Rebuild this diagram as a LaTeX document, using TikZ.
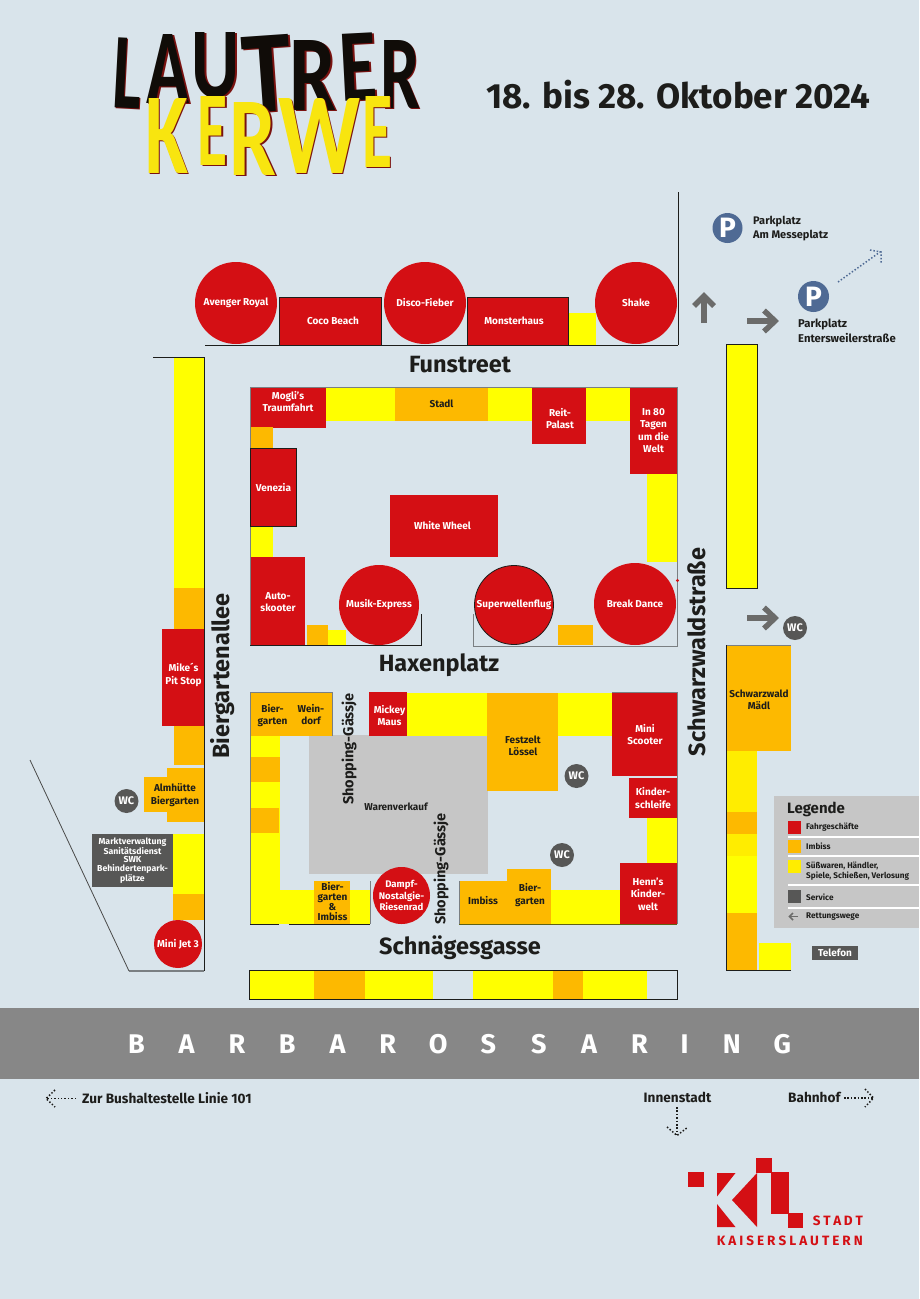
\documentclass[tikz,border=0pt]{standalone}
\usepackage{fontspec}
\setmainfont{Fira Sans}
\newfontfamily\logofont{Carlito}
\definecolor{bg}{HTML}{D9E4EB}
\definecolor{rd}{HTML}{D40F14}
\definecolor{og}{HTML}{FDB900}
\definecolor{ye}{HTML}{FFFF00}
\definecolor{yl}{HTML}{FFED00}
\definecolor{dk}{HTML}{575756}
\definecolor{gy}{HTML}{C6C6C6}
\definecolor{tx}{HTML}{1D1D1B}
\definecolor{pb}{HTML}{4F6A94}
\definecolor{ln}{HTML}{7A7F82}
\definecolor{ar}{HTML}{6B6B6A}
\definecolor{kb}{HTML}{100C08}
\definecolor{ky}{HTML}{F8E50F}
\definecolor{ks}{HTML}{7A1210}
\tikzset{
  fr/.style={fill=rd}, im/.style={fill=og}, su/.style={fill=ye}, sl/.style={fill=yl},
  sv/.style={fill=dk}, wa/.style={fill=gy},
  lab/.style={inner sep=0pt,align=center,text=tx,font=\fontsize{10}{12.4}\selectfont\bfseries},
  wlab/.style={lab,text=white},
  street/.style={inner sep=0pt,text=tx,font=\fontsize{23.5}{26}\selectfont\bfseries},
  gass/.style={inner sep=0pt,text=tx,font=\fontsize{14.5}{16}\selectfont\bfseries},
  leg/.style={inner sep=0pt,anchor=west,align=left,text=tx,font=\fontsize{8.2}{10}\selectfont\bfseries},
  ride/.style={circle,fill=rd,inner sep=0pt},
  wc/.style={circle,fill=dk,inner sep=0pt,minimum size=24pt,text=white,font=\fontsize{11}{12}\selectfont\bfseries},
  pk/.style={circle,fill=pb,inner sep=0pt,text=white,font=\fontsize{28}{28}\selectfont\bfseries},
  ptx/.style={inner sep=0pt,anchor=west,text=tx,align=left},
  edge/.style={draw=ln,line width=1pt},
  blk/.style={draw=tx,line width=1pt},
  gar/.style={draw=ar,line width=5.5pt},
  dot/.style={draw=tx,line width=1.5pt,dash pattern=on 1.5pt off 1.9pt},
  dotb/.style={draw=pb,line width=1.5pt,dash pattern=on 1.5pt off 1.9pt},
  redt/.style={inner sep=0pt,text=rd,font=\fontsize{13.5}{14}\selectfont\bfseries},
  dirt/.style={inner sep=0pt,text=tx,font=\fontsize{13.6}{15}\selectfont\bfseries},
}
\newcommand\zone[5]{\path[#1] (#2,#3) rectangle (#4,#5);}
\newcommand\logol[8]{%
  \pgfmathsetmacro\lw{#4-#2}\pgfmathsetmacro\lh{#5-#3}%
  \pgfmathsetmacro\lx{(#2+#4)/2}\pgfmathsetmacro\ly{(#3+#5)/2}%
  \node[inner sep=0pt,rotate=#8,text=ks] at (\lx+1.3,\ly+1) {\resizebox{\lw pt}{\lh pt}{\logofont\bfseries #6}};
  \node[inner sep=0pt,rotate=#8,text=#7] (#1) at (\lx,\ly) {\resizebox{\lw pt}{\lh pt}{\logofont\bfseries #6}};}
\newcommand\bl[1]{\hbox to 50.3pt{\hss#1\hss}}
\begin{document}
\begin{tikzpicture}[x=1pt,y=-1pt]
\useasboundingbox (0,0) rectangle (919,1299);
\fill[bg] (0,0) rectangle (919,1299);
% title lettering
\logol{la}{113}{38}{142}{108}{L}{kb}{-3}
\logol{lb}{147}{34}{190}{103}{A}{kb}{0}
\logol{lc}{192}{33}{240}{98}{U}{kb}{0}
\logol{ld}{243}{36}{292}{112}{T}{kb}{4}
\logol{le}{290}{40}{337}{110}{R}{kb}{0}
\logol{lf}{340}{34}{377}{101}{E}{kb}{3}
\logol{lg}{380}{40}{420}{108}{R}{kb}{0}
\logol{ka}{145}{98}{188}{173}{K}{ky}{0}
\logol{kbb}{198}{96}{228}{165}{E}{ky}{0}
\logol{kc}{230}{102}{277}{175}{R}{ky}{0}
\logol{kd}{278}{98}{360}{173}{W}{ky}{0}
\logol{ke}{362}{96}{392}{167}{E}{ky}{0}
\node[inner sep=0pt,text=tx,font=\fontsize{35}{40}\selectfont\bfseries] (date) at (678.5,95) {18. bis 28. Oktober 2024};

% Funstreet row
\zone{su}{568}{313}{596}{345}
\node[ride,minimum size=82pt] (avenger) at (236,303) {};
\node[ride,minimum size=82pt] (disco) at (425,303) {};
\node[ride,minimum size=82pt] (shake) at (636,303) {};
\path[fr,blk] (279,297.5) rectangle (381,345);
\path[fr,blk] (467,297.5) rectangle (568,345);
\draw[blk] (205,345) -- (678,345);
\draw[blk] (678,192) -- (678,345);
\node[wlab] at (avenger) {Avenger Royal};
\node[wlab] at (disco) {Disco-Fieber};
\node[wlab] at (shake) {Shake};
\node[wlab] (coco) at (333,321) {Coco Beach};
\node[wlab] (monster) at (514,321) {Monsterhaus};
\node[street] (fun) at (460,365) {Funstreet};

% Parking and arrows
\draw[gar] (704,323) -- (704,297);
\draw[gar,miter limit=10] (694,306) -- (704,296) -- (714,306);
\draw[gar] (747,321) -- (775,321);
\draw[gar,miter limit=10] (764,310.5) -- (775,321) -- (764,331.5);
\draw[gar] (747,618) -- (775,618);
\draw[gar,miter limit=10] (764,607.5) -- (775,618) -- (764,628.5);
\node[pk,minimum size=30pt] (p1) at (727.5,228) {P};
\node[pk,minimum size=31pt] (p2) at (813.5,296.5) {P};
\node[ptx,font=\fontsize{11}{14}\selectfont\bfseries] (p1t) at (753,229) {Parkplatz\\Am Messeplatz};
\node[ptx,font=\fontsize{11.3}{14.4}\selectfont\bfseries] (p2t) at (798,331) {Parkplatz\\Entersweilerstraße};
\draw[dotb] (838,282) -- (880,252);
\draw[dotb] (870,250) -- (881,252) -- (881,264);

% Biergartenallee column
\zone{su}{174}{357}{204}{588}
\zone{im}{174}{588}{204}{629}
\zone{fr}{162}{629}{204}{726}
\zone{im}{174}{726}{204}{765}
\zone{im}{167}{768}{204}{822}
\zone{im}{144}{777}{167}{812}
\zone{su}{173}{834}{204}{894}
\zone{im}{173}{894}{204}{920}
\zone{sv}{92}{834}{173}{887}
\node[ride,minimum size=48pt] (minijet) at (178,944) {};
\draw[blk] (153,357) -- (204,357) -- (204,971);
\draw[ln,line width=1.2pt] (129,971) -- (204,971);
\draw[draw=tx!80,line width=.8pt] (30,760) -- (129,971);
\node[wlab] (mike) at (183.5,675) {Mike´s\\Pit Stop};
\node[lab] (alm) at (175,795) {Almhütte\\Biergarten};
\node[wlab,font=\fontsize{8.7}{8.8}\selectfont\bfseries] (markt) at (132.5,860.5) {Marktverwaltung\\Sanitätsdienst\\SWK\\Behindertenpark-\\plätze};
\node[wlab] at (minijet) {Mini Jet 3};
\node[wc] (wc1) at (126.5,801) {WC};
\node[street,rotate=90] (bga) at (223,676) {Biergartenallee};

% Haxenplatz block
\zone{su}{326}{387}{630}{421}
\zone{im}{395}{387}{488}{421}
\zone{fr}{250}{387}{326}{428}
\zone{fr}{532}{388}{586}{444}
\zone{fr}{630}{387}{677}{474}
\zone{su}{647}{474}{677}{562}
\zone{im}{250}{427}{273}{448}
\zone{su}{250}{526}{273}{557}
\zone{fr}{250}{557}{305}{645}
\zone{im}{307}{625}{328}{645}
\zone{su}{328}{630}{346}{645}
\zone{im}{558}{625}{593}{645}
\zone{fr}{390}{495}{498}{557}
\draw[edge] (250,387) -- (677.5,387) -- (677.5,646) -- (473,646) -- (473,614);
\draw[edge] (250,387) -- (250,646);
\draw[blk] (250,645.5) -- (421,645.5) -- (421,614);
\path[fr,blk] (250.5,448.5) rectangle (296,526);
\node[ride,minimum size=80pt] (musik) at (379,605) {};
\node[ride,minimum size=79pt,draw=tx,line width=.8pt] (welle) at (514,605) {};
\node[ride,minimum size=82pt] (break) at (635,604) {};
\fill[rd] (677.5,580.5) circle (1.6);
\node[wlab] (mogli) at (288,401.5) {Mogli's\\Traumfahrt};
\node[lab] (stadl) at (441.5,404) {Stadl};
\node[wlab] (reit) at (560,418.5) {Reit-\\Palast};
\node[wlab] (in80) at (653.5,430.5) {In 80\\Tagen\\um die\\Welt};
\node[wlab] (ven) at (273.5,488) {Venezia};
\node[wlab] (white) at (442.5,526) {White Wheel};
\node[wlab] (auto) at (278,602) {Auto-\\skooter};
\node[wlab] at (musik) {Musik-Express};
\node[wlab] at (welle) {Superwellenflug};
\node[wlab] at (break) {Break Dance};
\node[street] (hax) at (439,665) {Haxenplatz};

% Schwarzwaldstrasse
\path[su,blk] (726.5,344) rectangle (757,588);
\zone{im}{727}{646}{791}{751}
\zone{sl}{727}{751}{757}{812}
\zone{im}{727}{812}{757}{834}
\zone{sl}{727}{834}{757}{856}
\zone{su}{727}{856}{757}{913}
\zone{im}{727}{913}{757}{970}
\zone{su}{759}{943}{791}{970}
\draw[edge] (726,645) -- (791,645);
\draw[blk] (726.5,645) -- (726.5,970.5) -- (791,970.5);
\node[lab] (swm) at (759,699.5) {Schwarzwald\\Mädl};
\node[wc] (wc2) at (795,628) {WC};
\node[street,rotate=90] (sws) at (697,652) {Schwarzwaldstraße};

% Legend
\zone{wa}{774}{796}{919}{928}
\node[inner sep=0pt,anchor=west,text=tx,font=\fontsize{15}{16}\selectfont\bfseries] (lgt) at (787,809) {Legende};
\zone{fr}{788}{821}{801}{834}
\zone{im}{788}{840}{801}{853}
\zone{sl}{788}{860}{801}{873}
\zone{sv}{788}{890}{801}{903}
\foreach \yy in {837,856,885,908} \draw[white,line width=1.4pt] (788,\yy) -- (919,\yy);
\node[leg] (l1) at (806,827) {Fahrgeschäfte};
\node[leg] (l2) at (806,846.5) {Imbiss};
\node[leg] (l3) at (806,871.5) {Süßwaren, Händler,\\Spiele, Schießen, Verlosung};
\node[leg] (l4) at (806,897) {Service};
\node[leg] (l5) at (806,916.5) {Rettungswege};
\draw[ar,line width=1.5pt] (798,916.5) -- (790,916.5);
\draw[ar,line width=1.5pt] (793,913) -- (789.5,916.5) -- (793,920);
\node[inner sep=0pt,fill=dk,minimum width=46pt,minimum height=14pt,text=white,font=\fontsize{10}{12}\selectfont\bfseries] (tel) at (835,953) {Telefon};

% Schnaegesgasse block
\zone{wa}{309}{735}{488}{874}
\zone{im}{250}{692}{332}{736}
\zone{su}{250}{736}{280}{924}
\zone{im}{250}{757}{280}{782}
\zone{im}{250}{808}{279}{833}
\zone{su}{250}{890}{370}{924}
\zone{im}{314}{881}{350}{924}
\zone{fr}{369}{692}{407}{736}
\zone{su}{407}{693}{487}{736}
\zone{im}{487}{693}{558}{791}
\zone{su}{558}{693}{612}{736}
\zone{fr}{612}{693}{677}{776}
\zone{fr}{629}{778}{677}{818}
\zone{su}{647}{818}{677}{863}
\zone{su}{551}{890}{620}{924}
\zone{fr}{620}{863}{677}{924}
\zone{im}{507}{869}{551}{924}
\zone{im}{460}{881}{507}{924}
\draw[edge] (250,736) -- (250,692) -- (332,692) -- (332,736);
\draw[edge] (250,736) -- (250,924);
\draw[edge] (370,881) -- (370,924);
\draw[edge] (459,881) -- (459,924);
\draw[edge] (612,692.5) -- (677.5,692.5) -- (677.5,924);
\draw[blk,line width=.9pt] (250,924.5) -- (279,924.5);
\draw[blk,line width=.9pt] (289,924.5) -- (370,924.5);
\draw[draw=tx!70!yellow,line width=.9pt] (459,924.5) -- (677,924.5);
\node[ride,minimum size=57pt] (dampf) at (401.5,895.5) {};
\node[lab] (bg1) at (272.5,715.5) {Bier-\\garten};
\node[lab] (wd) at (311,714.5) {Wein-\\dorf};
\node[wlab] (mm) at (389.5,715.5) {Mickey\\Maus};
\node[lab] (fz) at (523,745.5) {Festzelt\\Lössel};
\node[wlab] (ms) at (645,734.5) {Mini\\Scooter};
\node[wlab] (ks) at (653,798) {Kinder-\\schleife};
\node[wlab] (hk) at (648,894) {Henn's\\Kinder-\\welt};
\node[lab] (bg2) at (530,895) {Bier-\\garten};
\node[lab] (imb) at (483,901) {Imbiss};
\node[lab,font=\fontsize{10}{10}\selectfont\bfseries] (bg3) at (332.5,902) {Bier-\\garten\\\&\\Imbiss};
\node[wlab,font=\fontsize{9.6}{11.4}\selectfont\bfseries] at (dampf) {Dampf-\\Nostalgie-\\Riesenrad};
\node[lab] (wv) at (396,807) {Warenverkauf};
\node[gass,rotate=90] (sg1) at (349,749) {Shopping-Gässje};
\node[gass,rotate=90] (sg2) at (441,869) {Shopping-Gässje};
\node[wc] (wc3) at (576.5,776) {WC};
\node[wc] (wc4) at (562,855) {WC};
\node[street] (sch) at (460,948) {Schnägesgasse};

% bottom strip
\zone{su}{250}{970}{314}{1000}
\zone{im}{314}{970}{365}{1000}
\zone{su}{365}{970}{433}{1000}
\zone{su}{473}{970}{553}{1000}
\zone{im}{553}{970}{583}{1000}
\zone{su}{583}{970}{647}{1000}
\draw[blk] (249.5,970.5) rectangle (677.5,999.5);

% Barbarossaring
\fill[fill=black!47] (0,1008) rectangle (919,1079);
\node[inner sep=0pt,anchor=west,text=white,font=\fontsize{27}{28}\selectfont\bfseries] (bar) at (111,1044)
  {\bl{B}\bl{A}\bl{R}\bl{B}\bl{A}\bl{R}\bl{O}\bl{S}\bl{S}\bl{A}\bl{R}\kern-5pt\bl{I}\kern-3pt\bl{N}\bl{G}};

% directions
\node[dirt,anchor=west] (bus) at (82,1098) {Zur Bushaltestelle Linie 101};
\node[dirt] (inn) at (677.5,1097) {Innenstadt};
\node[dirt,anchor=west] (bahn) at (788,1097) {Bahnhof};
\draw[dot] (76,1098.5) -- (47,1098.5);
\draw[dot] (55,1090) -- (46,1098.5) -- (55,1107);
\draw[dot] (677,1107) -- (677,1135);
\draw[dot] (667,1127) -- (677,1135.5) -- (688,1127);
\draw[dot] (844,1098) -- (873,1098);
\draw[dot] (865,1089) -- (873.5,1098) -- (865,1107);

% City logo
\fill[rd] (688,1172) rectangle (704,1187);
\fill[rd] (717,1173) -- (735.5,1173) -- (717,1196.5) -- cycle;
\fill[rd] (717,1204) -- (735.5,1227) -- (717,1227) -- cycle;
\fill[rd] (757,1173) -- (757,1227) -- (732,1200) -- cycle;
\fill[rd] (756,1158) rectangle (772,1173);
\fill[rd] (771,1172) rectangle (789,1214);
\fill[rd] (788,1213) rectangle (803,1228);
\node[redt,anchor=east] (stadt) at (863,1221) {\hbox to 50pt{S\hfil T\hfil A\hfil D\hfil T}};
\node[redt,anchor=east] (kais) at (863,1241) {\hbox to 146pt{K\hfil A\hfil I\hfil S\hfil E\hfil R\hfil S\hfil L\hfil A\hfil U\hfil T\hfil E\hfil R\hfil N}};
\end{tikzpicture}
\end{document}
